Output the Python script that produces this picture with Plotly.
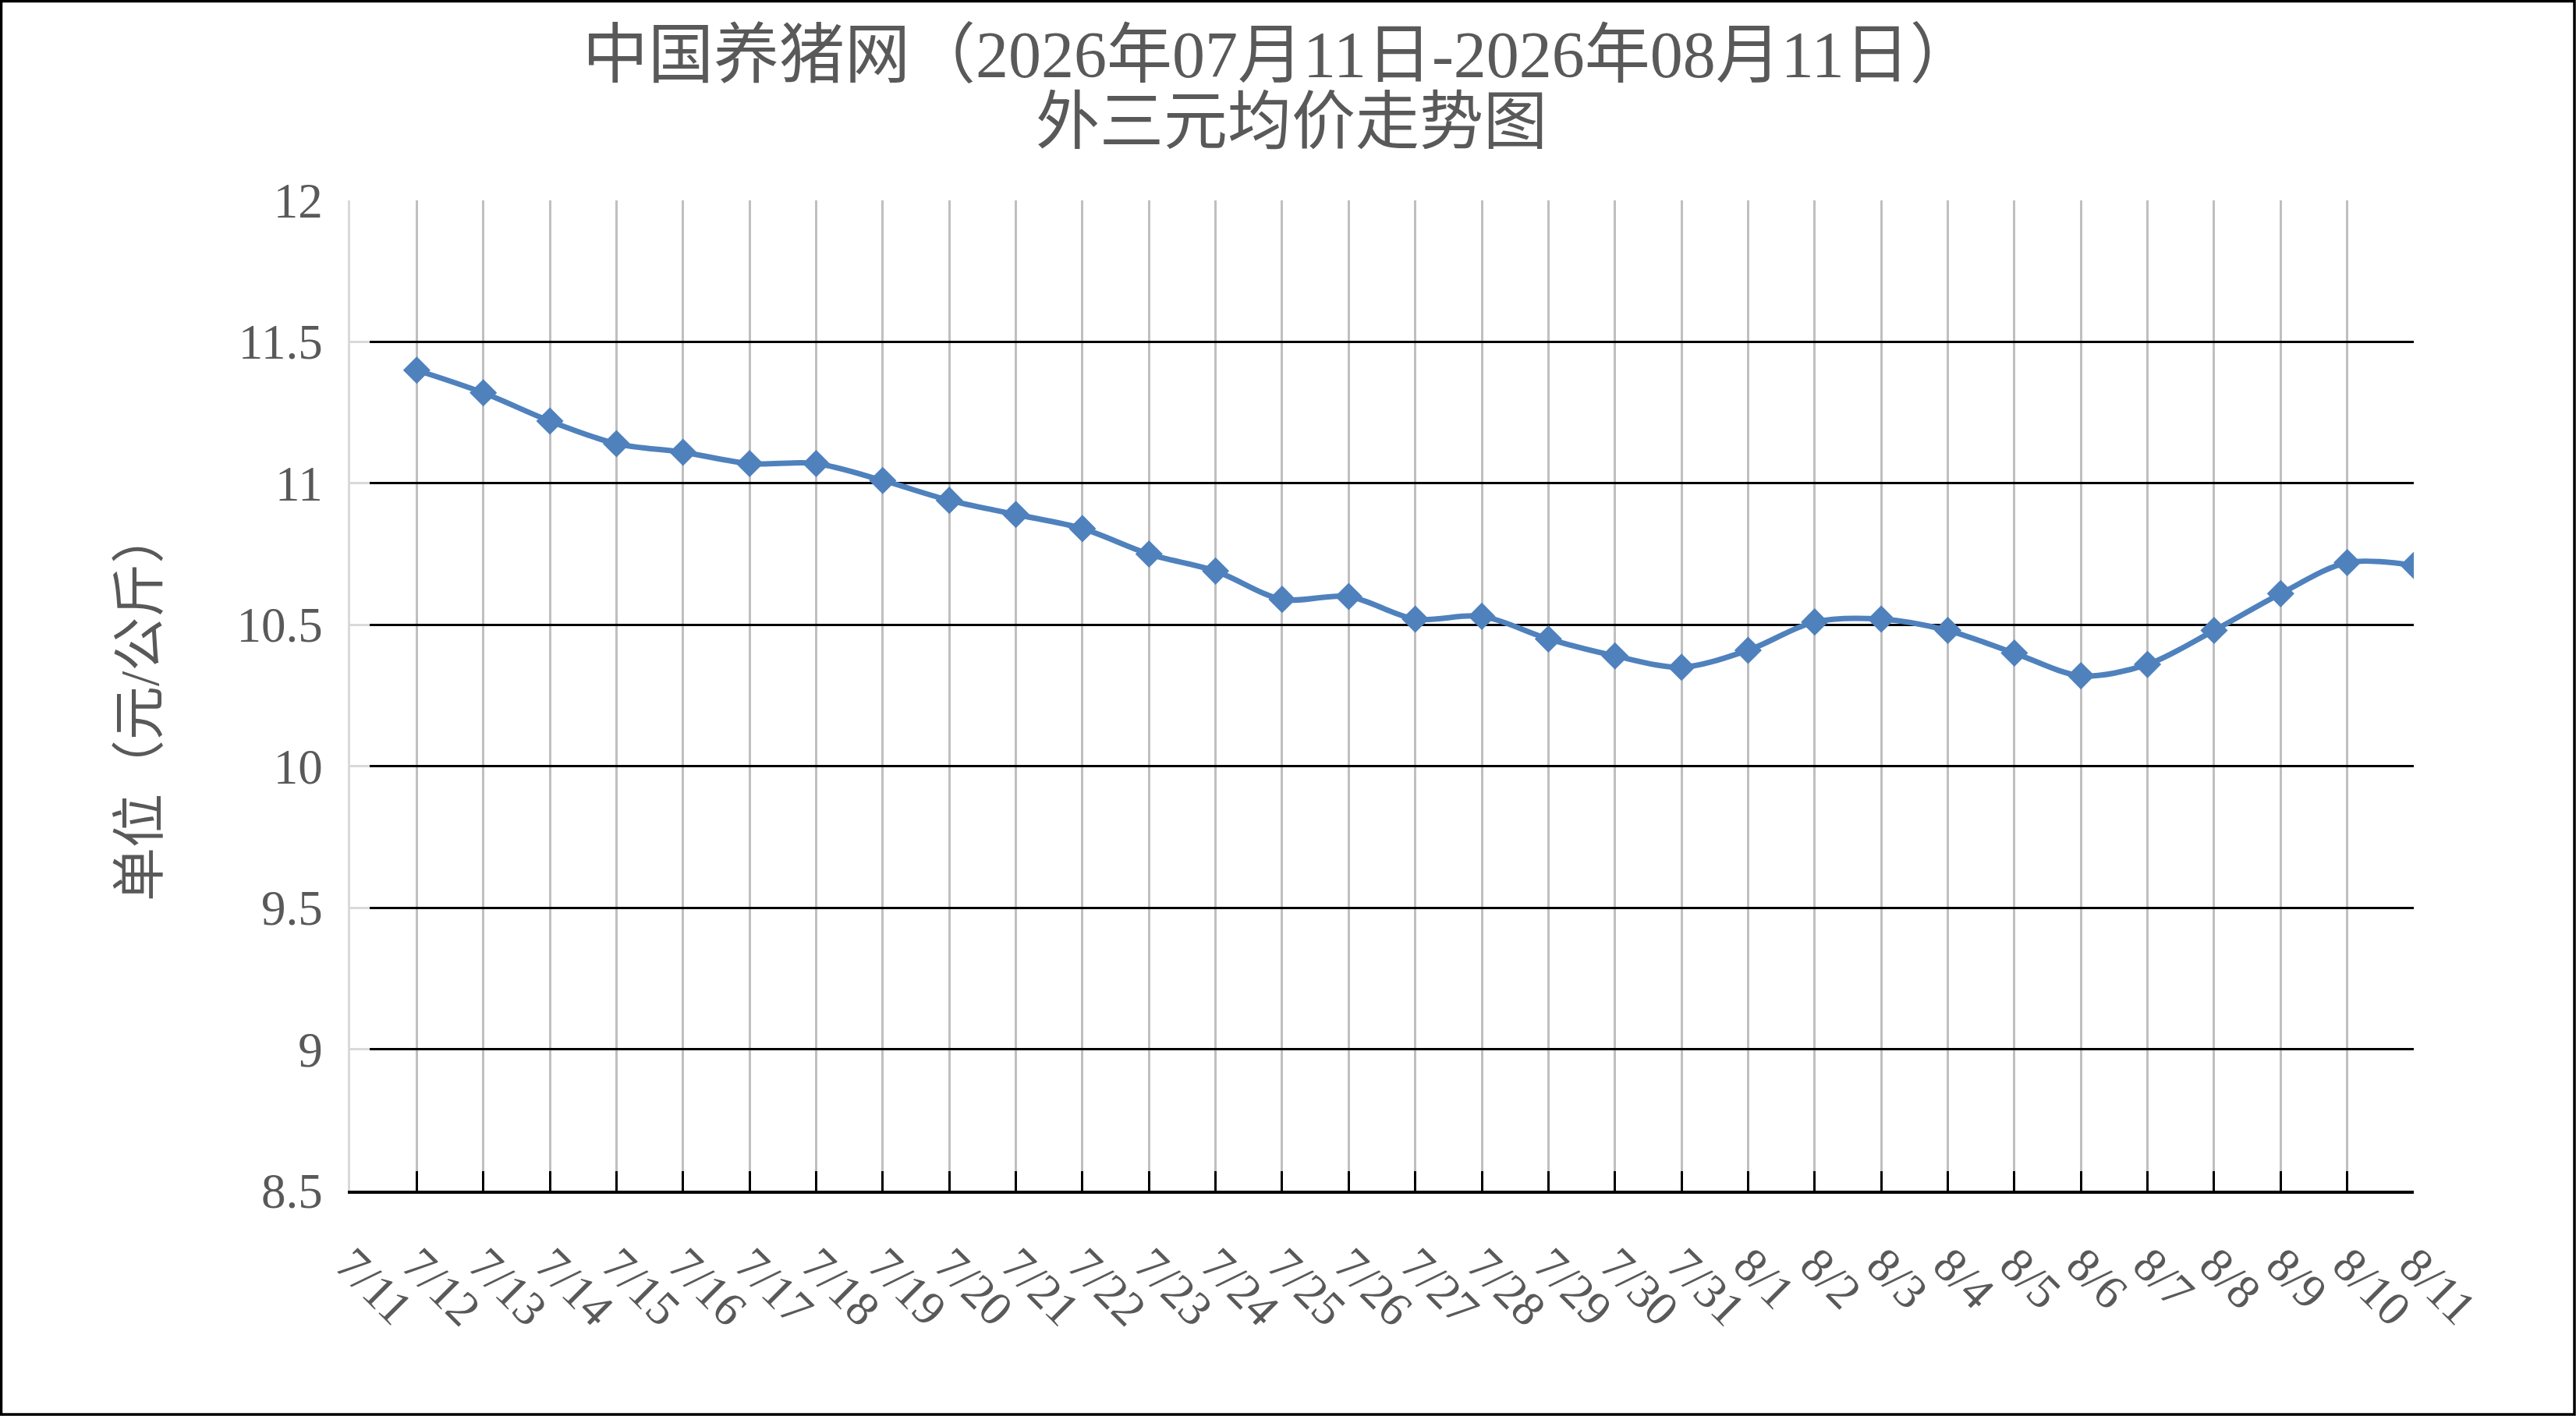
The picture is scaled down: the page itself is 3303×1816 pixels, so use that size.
import plotly.graph_objects as go

# x-axis labels (7/11 sits on the left axis, prices start on 7/12)
dates = ['7/11', '7/12', '7/13', '7/14', '7/15', '7/16', '7/17', '7/18', '7/19', '7/20',
         '7/21', '7/22', '7/23', '7/24', '7/25', '7/26', '7/27', '7/28', '7/29', '7/30',
         '7/31', '8/1', '8/2', '8/3', '8/4', '8/5', '8/6', '8/7', '8/8', '8/9', '8/10', '8/11']
price_dates = dates[1:]
prices = [11.40, 11.32, 11.22, 11.14, 11.11, 11.07, 11.07, 11.01, 10.94, 10.89,
          10.84, 10.75, 10.69, 10.59, 10.60, 10.52, 10.53, 10.45, 10.39, 10.35,
          10.41, 10.51, 10.52, 10.48, 10.40, 10.32, 10.36, 10.48, 10.61, 10.72, 10.71]

title1 = '中国养猪网（2026年07月11日-2026年08月11日）'
title2 = '外三元均价走势图'
ytitle = '单位（元/公斤）'

W, H = 3303, 1816
L, R, T, B = 449, 3095, 257, 1527   # plot area in pixels
FONT = 'Liberation Serif, Noto Sans CJK SC'
GREY_TXT = '#595959'
BLUE = '#4F81BD'


def px_x(p):
    return (p - L) / (R - L)


def px_y(p):
    return (B - p) / (B - T)


fig = go.Figure()
fig.add_trace(go.Scatter(
    x=[dates.index(d) for d in price_dates], y=prices,
    mode='lines+markers',
    line=dict(color=BLUE, width=7, shape='spline', smoothing=0.9),
    marker=dict(symbol='diamond', size=27, color=BLUE),
    showlegend=False))

fig.update_layout(
    width=W, height=H,
    margin=dict(l=L, r=W - R, t=T, b=H - B),
    paper_bgcolor='white', plot_bgcolor='white',
    font=dict(family=FONT, color=GREY_TXT),
    xaxis=dict(
        range=[0, len(dates) - 1],
        tickmode='array', tickvals=list(range(len(dates))), ticktext=dates,
        tickangle=45, tickfont=dict(size=62, color=GREY_TXT),
        showgrid=True, gridcolor='#bfbfbf', gridwidth=2.5,
        showline=True, linecolor='black', linewidth=3.5,
        ticks='inside', ticklen=25, tickwidth=3, tickcolor='black',
        zeroline=False, fixedrange=True, ticklabelstandoff=30),
    yaxis=dict(
        range=[8.5, 12], dtick=0.5, tick0=8.5,
        tickfont=dict(size=63, color=GREY_TXT),
        showgrid=True, gridcolor='black', gridwidth=3,
        showline=True, linecolor='#d9d9d9', linewidth=2.5,
        ticks='inside', ticklen=25, tickwidth=3, tickcolor='#d9d9d9',
        zeroline=False, fixedrange=True, ticklabelstandoff=20),
)

fig.add_annotation(text=title1, xref='paper', yref='paper',
                   x=px_x(1640), y=px_y(70), xanchor='center', yanchor='middle',
                   showarrow=False, font=dict(size=84, color=GREY_TXT))
fig.add_annotation(text=title2, xref='paper', yref='paper',
                   x=px_x(1656), y=px_y(156), xanchor='center', yanchor='middle',
                   showarrow=False, font=dict(size=82, color=GREY_TXT))
fig.add_annotation(text=ytitle, xref='paper', yref='paper', textangle=-90,
                   x=px_x(180), y=px_y(905), xanchor='center', yanchor='middle',
                   showarrow=False, font=dict(size=69, color=GREY_TXT))

# frame round the whole picture
fig.add_shape(type='rect', xref='paper', yref='paper',
              x0=px_x(1.5), x1=px_x(W - 2), y0=px_y(H - 2), y1=px_y(1.5),
              line=dict(color='black', width=3.5), layer='above')

fig.write_html("out.html", config={'displayModeBar': False},
               post_script="document.body.style.margin='0';")
